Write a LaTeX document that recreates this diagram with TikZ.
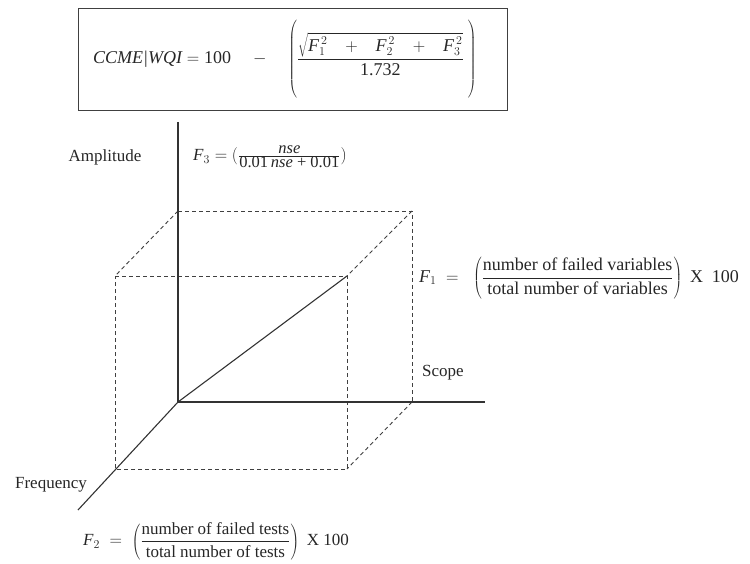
\documentclass[tikz,border=0pt]{standalone}
\usepackage{fontspec}
\setmainfont{Liberation Serif}
\begin{document}
\begin{tikzpicture}[x=1pt,y=-1pt,
  axisline/.style={draw=black!80, line width=1.1pt},
  dashline/.style={draw=black!75, line width=0.9pt, dash pattern=on 4pt off 3pt},
  lbl/.style={text=black!85, font=\fontsize{17}{20}\selectfont, inner sep=0pt},
  frm/.style={text=black!85, font=\fontsize{17}{20}\selectfont, inner sep=0pt},
  titlebox/.style={draw=black!75, line width=1pt, minimum width=429pt, minimum height=102pt, inner sep=0pt}]
\useasboundingbox (0,0) rectangle (750,564);
% title box
\node[titlebox] (box) at (292.5,60) {};
\node[frm, font=\fontsize{18}{21}\selectfont, anchor=west] (ccme) at (93,60) {$\mbox{\itshape CCME|WQI} = \mbox{100}\hspace{18pt}-\hspace{18pt}\left(\vrule height 37pt depth 37pt width 0pt\displaystyle\frac{\sqrt{\mbox{\itshape F}_1^{\,2}\hspace{14pt}+\hspace{14pt}\mbox{\itshape F}_2^{\,2}\hspace{14pt}+\hspace{14pt}\mbox{\itshape F}_3^{\,2}}\vphantom{\Big|}}{\vphantom{\Big|}\mbox{1.732}}\hspace{4pt}\right)$};
% axes points
\coordinate (O) at (178,402);
\coordinate (Ytop) at (178,122);
\coordinate (Xend) at (485,402);
\coordinate (Zend) at (78,510);
\coordinate (B1) at (178,211);
\coordinate (B2) at (412,211);
\coordinate (B3) at (412,402);
\coordinate (C1) at (115,276);
\coordinate (C2) at (347,276);
\coordinate (C3) at (347,469);
\coordinate (C4) at (115,469);
% dashed cube
\draw[dashline] (B1) -- (B2) -- (B3);
\draw[dashline] (C1) -- (C2) -- (C3) -- (C4) -- cycle;
\draw[dashline] (B1) -- (C1);
\draw[dashline] (B2) -- (C2);
\draw[dashline] (B3) -- (C3);
% axes
\draw[axisline] (Ytop) -- (O) -- (Xend);
\draw[axisline] (O) -- (Zend);
\draw[axisline] (O) -- (C2);
% labels
\node[lbl] (amp) at (105,157) {Amplitude};
\node[lbl] (scope) at (443,373) {Scope};
\node[lbl] (freq) at (51,485) {Frequency};
% formulas
\node[frm, anchor=west] (f3) at (193,157) {$\mbox{\itshape F}_3 = \bigl(\frac{\mbox{\fontsize{16.5}{18}\selectfont\itshape nse}}{\mbox{\fontsize{16.5}{18}\selectfont 0.01\,\itshape nse\upshape\ + 0.01}}\bigr)$};
\node[frm, font=\fontsize{18}{21}\selectfont, anchor=west] (f1) at (419,278) {$\mbox{\itshape F}_1 \;=\;\; \left(\displaystyle\frac{\mbox{number of failed variables}}{\mbox{total number of variables}}\right)\;\mbox{X\ \ 100}$};
\node[frm, anchor=west] (f2) at (83,541) {$\mbox{\itshape F}_2 \;=\; \left(\displaystyle\frac{\mbox{number of failed tests}}{\mbox{total number of tests}}\right)\;\mbox{X 100}$};
\end{tikzpicture}
\end{document}
